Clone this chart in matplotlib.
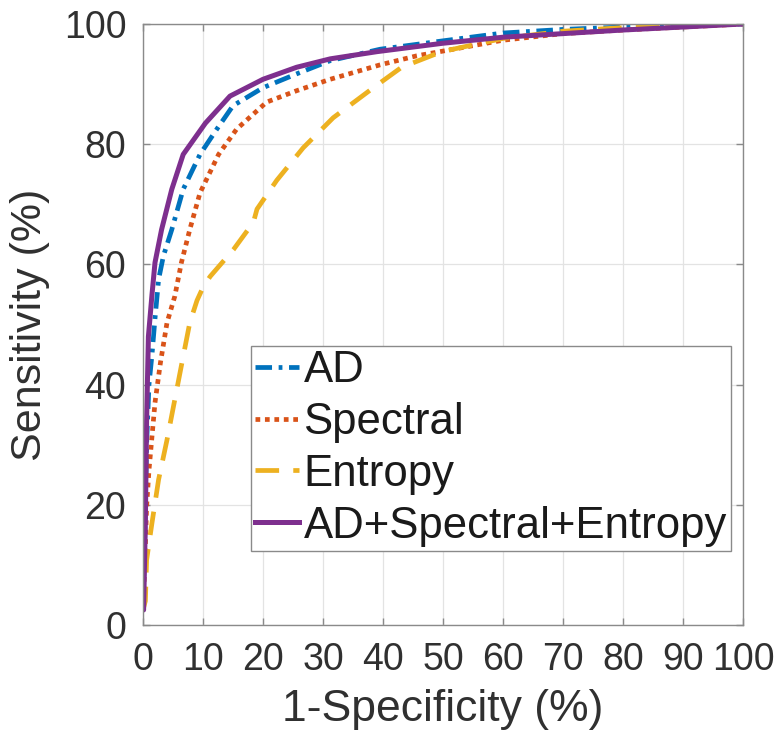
import matplotlib.pyplot as plt

plt.rcParams['font.family'] = ['Liberation Sans', 'DejaVu Sans']

# Dados (leitura aproximada da figura)
ad_x = [0, 0.3, 0.6, 1.0, 1.5, 2.0, 2.6, 3.4, 4.8, 6.7, 9.5, 12.3, 15, 20, 25.6, 31.2, 39.5, 50, 60, 70, 80, 90, 100]
ad_y = [2.5, 15, 30, 40, 45, 51, 57.5, 61.4, 65.8, 72.5, 78.3, 82.5, 86.4, 89.4, 91.7, 93.9, 95.8, 97.2, 98.5, 99.1, 99.5, 99.8, 100]

sp_x = [0, 0.3, 0.6, 1.0, 1.5, 2.0, 2.9, 4.0, 5.3, 6.4, 7.8, 9.5, 12.6, 15.6, 20.6, 25.6, 31.2, 39.5, 45.6, 52.8, 60, 70, 80, 90, 100]
sp_y = [2.5, 10, 19.7, 25.8, 31.4, 37, 43.6, 50.3, 54.7, 60.3, 65.8, 71.9, 78.3, 82.5, 87, 88.9, 90.8, 93.2, 94.7, 96, 97.3, 98.4, 99, 99.5, 100]

en_x = [0, 0.4, 0.6, 1.5, 2.6, 4.0, 5.3, 6.7, 7.8, 9.0, 10.1, 11.2, 15.1, 18.4, 19, 22.3, 26.7, 31.7, 38.4, 43.1, 49.8, 60, 70, 80, 90, 100]
en_y = [2.5, 4, 10.8, 17, 24.2, 30.8, 37.5, 44.7, 50.3, 54, 56.4, 58, 62.5, 67, 69.2, 74, 79.4, 84.4, 89.4, 92.8, 95.4, 97.6, 98.8, 99.4, 99.7, 100]

all_x = [0, 0.1, 0.4, 0.6, 0.9, 1.5, 2.0, 3.1, 4.8, 6.7, 10.4, 14.5, 20, 25.6, 31.2, 39, 50, 60, 70, 80, 90, 100]
all_y = [2.5, 2.5, 17.5, 34, 48, 55, 60.3, 65.8, 72.5, 78.3, 83.5, 88, 90.8, 92.8, 94.2, 95.4, 96.8, 97.8, 98.4, 99.0, 99.5, 100]

legendas = ['AD', 'Spectral', 'Entropy', 'AD+Spectral+Entropy']
cores = ['#0072BD', '#D95319', '#EDB120', '#7E2F8E']

fig = plt.figure(figsize=(7.83, 7.41), dpi=100)
ax = fig.add_axes([143 / 783, 116 / 741, 600 / 783, 601 / 741])

ax.plot(ad_x, ad_y, color=cores[0], lw=3.4, dashes=(3.5, 1.4, 0.8, 1.4), label=legendas[0])
ax.plot(sp_x, sp_y, color=cores[1], lw=3.4, dashes=(1, 1), label=legendas[1])
ax.plot(en_x, en_y, color=cores[2], lw=3.4, dashes=(5, 3), label=legendas[2])
ax.plot(all_x, all_y, color=cores[3], lw=3.6, label=legendas[3])

ax.set_xlim(0, 100)
ax.set_ylim(0, 100)
ax.set_xticks(range(0, 101, 10))
ax.set_yticks(range(0, 101, 20))
ax.grid(True, color='#e3e3e3', lw=0.9)
ax.set_axisbelow(True)
for s in ax.spines.values():
    s.set_color('#8a8a8a')
    s.set_linewidth(1.0)
ax.tick_params(direction='in', top=True, right=True, length=5, width=1,
               color='#8a8a8a', labelsize=27, labelcolor='#303030', pad=12)
ax.set_xlabel('1-Specificity (%)', fontsize=32, color='#303030', labelpad=8)
ax.set_ylabel('Sensitivity (%)', fontsize=31, color='#303030', labelpad=10)

leg = ax.legend(loc='lower left', bbox_to_anchor=(0.18, 0.123), borderaxespad=0,
                fontsize=31.5, handlelength=1.0, handletextpad=0.1, labelspacing=0.25,
                borderpad=0.1, fancybox=False, framealpha=1, edgecolor='#8a8a8a')
leg.get_frame().set_linewidth(1.0)
for t in leg.get_texts():
    t.set_color('#1a1a1a')

fig.savefig('out.png', dpi=100)
